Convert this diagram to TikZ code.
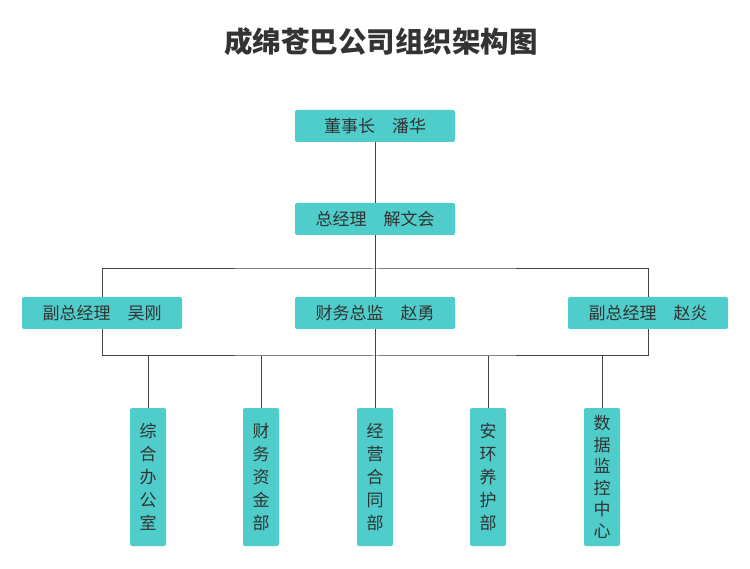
\documentclass[tikz,border=0pt]{standalone}
\usepackage{fontspec}
\setmainfont{Noto Sans CJK SC}
\begin{document}
\begin{tikzpicture}[x=1pt,y=-1pt,
 box/.style={fill=boxc,rounded corners=2pt,minimum width=160pt,minimum height=32pt,text=txt,font=\fontsize{17}{18}\selectfont,inner sep=0},
 vbox/.style={fill=boxc,rounded corners=2pt,minimum width=36pt,minimum height=138pt,text=txt,font=\fontsize{17}{23}\selectfont,inner sep=0,align=center},
 ln/.style={draw=linec,line width=1pt}]
\definecolor{boxc}{HTML}{4ECDCB}
\definecolor{txt}{HTML}{333333}
\definecolor{linec}{HTML}{444444}
\useasboundingbox (0,0) rectangle (750,569);
\node[font=\fontsize{28.5}{32}\selectfont\bfseries,text=txt] (t) at (381,42) {成绵苍巴公司组织架构图};
\node[box] (a) at (375,126) {董事长\quad 潘华};
\node[box] (b) at (375,219) {总经理\quad 解文会};
\node[box] (c1) at (102,313) {副总经理\quad 吴刚};
\node[box] (c2) at (375,313) {财务总监\quad 赵勇};
\node[box] (c3) at (648,313) {副总经理\quad 赵炎};
\node[vbox] (d1) at (148,477) {综\\合\\办\\公\\室};
\node[vbox] (d2) at (261,477) {财\\务\\资\\金\\部};
\node[vbox] (d3) at (375,477) {经\\营\\合\\同\\部};
\node[vbox] (d4) at (488,477) {安\\环\\养\\护\\部};
\node[vbox,font=\fontsize{17}{21.5}\selectfont] (d5) at (602,477) {数\\据\\监\\控\\中\\心};
\coordinate (h) at (375,269);
\coordinate (m) at (375,356);
\draw[ln] (a) -- (b);
\draw[ln] (b) -- (c2);
\draw[ln] (c1.north) |- (h) -| (c3.north);
\draw[ln] (c1.south) |- (m) -| (c3.south);
\draw[ln] (c2) -- (d3);
\foreach \n in {d1,d2,d4,d5} \draw[ln] (\n.north) -- (\n.north |- m);
\end{tikzpicture}
\end{document}
